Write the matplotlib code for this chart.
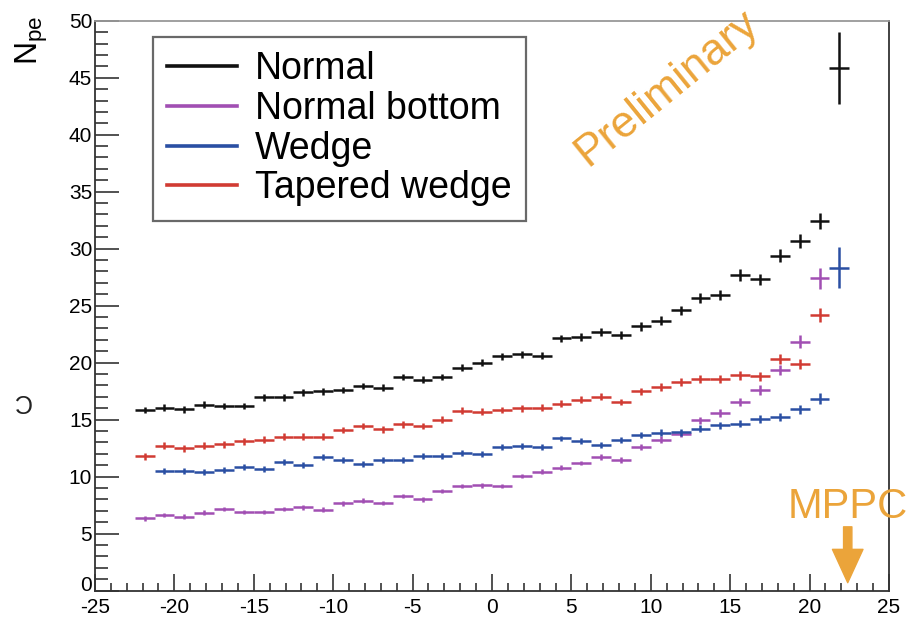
import numpy as np
import matplotlib
matplotlib.use("Agg")
import matplotlib.pyplot as plt
from matplotlib.lines import Line2D
from matplotlib.ticker import MultipleLocator, FuncFormatter

plt.rcParams["font.family"] = ["Liberation Sans", "DejaVu Sans"]
plt.rcParams["mathtext.fontset"] = "custom"
plt.rcParams["mathtext.rm"] = "Liberation Sans"
plt.rcParams["mathtext.it"] = "Liberation Sans"
plt.rcParams["axes.unicode_minus"] = False

# histogram binning: 40 bins between -25 and 25
bin_edges = np.linspace(-25, 25, 41)
bin_centers = 0.5 * (bin_edges[:-1] + bin_edges[1:])
half_width = 0.5 * (bin_edges[1] - bin_edges[0])

# Normal (bins 2..37)
normal_bins = np.arange(2, 38)
normal_vals = [15.85, 16.05, 15.9, 16.3, 16.2, 16.2, 16.95, 16.95, 17.4, 17.5,
               17.6, 17.95, 17.8, 18.75, 18.5, 18.75, 19.55, 20.0, 20.55, 20.75,
               20.6, 22.15, 22.25, 22.65, 22.4, 23.2, 23.7, 24.6, 25.7, 25.95,
               27.7, 27.3, 29.4, 30.65, 32.4, 45.85]
normal_errs = [0.3, 0.3, 0.3, 0.3, 0.3, 0.3, 0.3, 0.3, 0.3, 0.3,
               0.3, 0.3, 0.3, 0.3, 0.3, 0.3, 0.3, 0.3, 0.3, 0.3,
               0.3, 0.3, 0.35, 0.35, 0.35, 0.4, 0.4, 0.4, 0.45, 0.45,
               0.5, 0.5, 0.55, 0.6, 0.7, 3.2]

# Normal bottom (bins 2..36)
bottom_bins = np.arange(2, 37)
bottom_vals = [6.35, 6.65, 6.5, 6.85, 7.15, 6.9, 6.9, 7.15, 7.3, 7.1,
               7.65, 7.9, 7.7, 8.3, 8.0, 8.75, 9.2, 9.25, 9.2, 10.05,
               10.45, 10.8, 11.2, 11.75, 11.45, 12.6, 13.25, 13.75, 14.95, 15.6,
               16.55, 17.6, 19.35, 21.85, 27.4]
bottom_errs = [0.2, 0.2, 0.2, 0.2, 0.2, 0.2, 0.2, 0.2, 0.2, 0.2,
               0.2, 0.2, 0.2, 0.2, 0.2, 0.2, 0.2, 0.2, 0.2, 0.2,
               0.2, 0.2, 0.2, 0.25, 0.25, 0.25, 0.3, 0.3, 0.3, 0.35,
               0.35, 0.4, 0.45, 0.55, 0.9]

# Wedge (bins 3..37)
wedge_bins = np.arange(3, 38)
wedge_vals = [10.5, 10.5, 10.4, 10.6, 10.85, 10.65, 11.3, 11.05, 11.7, 11.45,
              11.1, 11.45, 11.45, 11.8, 11.8, 12.1, 12.0, 12.6, 12.7, 12.6,
              13.35, 13.15, 12.75, 13.2, 13.65, 13.85, 13.9, 14.2, 14.5, 14.65,
              15.05, 15.25, 15.9, 16.85, 28.35]
wedge_errs = [0.25, 0.25, 0.25, 0.25, 0.25, 0.25, 0.25, 0.25, 0.25, 0.25,
              0.25, 0.25, 0.25, 0.25, 0.25, 0.25, 0.25, 0.25, 0.25, 0.25,
              0.25, 0.25, 0.25, 0.25, 0.25, 0.3, 0.3, 0.3, 0.3, 0.3,
              0.35, 0.35, 0.4, 0.45, 1.8]

# Tapered wedge (bins 2..36)
tapered_bins = np.arange(2, 37)
tapered_vals = [11.8, 12.7, 12.5, 12.7, 12.85, 13.1, 13.25, 13.5, 13.5, 13.5,
                14.1, 14.45, 14.15, 14.6, 14.45, 15.0, 15.8, 15.7, 15.85, 16.0,
                16.05, 16.4, 16.75, 17.0, 16.55, 17.5, 17.9, 18.3, 18.55, 18.55,
                18.9, 18.8, 20.35, 19.9, 24.2]
tapered_errs = [0.3, 0.3, 0.3, 0.3, 0.3, 0.3, 0.3, 0.3, 0.3, 0.3,
                0.3, 0.3, 0.3, 0.3, 0.3, 0.3, 0.3, 0.3, 0.3, 0.3,
                0.3, 0.3, 0.3, 0.3, 0.3, 0.3, 0.35, 0.35, 0.35, 0.35,
                0.4, 0.4, 0.45, 0.45, 0.6]

series = [
    ("Normal", normal_bins, normal_vals, normal_errs, "#111111"),
    ("Normal bottom", bottom_bins, bottom_vals, bottom_errs, "#a14fb3"),
    ("Wedge", wedge_bins, wedge_vals, wedge_errs, "#2a4fa3"),
    ("Tapered wedge", tapered_bins, tapered_vals, tapered_errs, "#d13b33"),
]

orange = "#eba43a"

fig = plt.figure(figsize=(9.15, 6.2), dpi=100)
ax = fig.add_axes([0.1038, 0.0473, 0.8678, 0.9193])

handles = []
for name, bins, vals, errs, color in series:
    ax.errorbar(bin_centers[bins], vals, xerr=half_width, yerr=errs,
                fmt="none", ecolor=color, elinewidth=1.8, capsize=0)
    handles.append(Line2D([], [], color=color, linewidth=2.6, label=name))

ax.set_xlim(-25, 25)
ax.set_ylim(0, 50)
ax.xaxis.set_major_locator(MultipleLocator(5))
ax.xaxis.set_minor_locator(MultipleLocator(1))
ax.yaxis.set_major_locator(MultipleLocator(5))
ax.yaxis.set_minor_locator(MultipleLocator(1))
# the "0" of the y axis is drawn separately, slightly raised (ROOT style)
ax.yaxis.set_major_formatter(FuncFormatter(lambda v, pos: "" if v == 0 else f"{v:g}"))
ax.tick_params(axis="y", which="major", direction="in", length=17, width=1.2,
               labelsize=15, pad=2, right=False, color="#333333")
ax.tick_params(axis="y", which="minor", direction="in", length=9.5, width=1.2,
               right=False, color="#333333")
ax.tick_params(axis="x", which="major", direction="in", length=12, width=1.2,
               labelsize=15, pad=5, top=False, color="#333333")
ax.tick_params(axis="x", which="minor", direction="in", length=6, width=1.2,
               top=False, color="#333333")
for side in ["left", "bottom", "right"]:
    ax.spines[side].set_color("#333333")
    ax.spines[side].set_linewidth(1.3)
ax.spines["top"].set_color("#999999")
ax.spines["top"].set_linewidth(1.3)

ax.annotate("0", xy=(0, 0), xycoords="axes fraction", xytext=(-2.5, 4),
            textcoords="offset points", ha="right", va="center", fontsize=15)

leg = ax.legend(handles=handles, loc="upper left", bbox_to_anchor=(0.073, 0.9715),
                borderaxespad=0, fontsize=27, frameon=True, fancybox=False,
                handlelength=1.85, handletextpad=0.5, borderpad=0.38,
                labelspacing=0.1)
leg.get_frame().set_edgecolor("#444444")
leg.get_frame().set_linewidth(1.6)

fig.text(0.035, 0.935, r"$\mathrm{N_{pe}}$", rotation=90, fontsize=23,
         ha="center", va="center")
fig.text(0.024, 0.353, "C", rotation=180, fontsize=18, ha="center", va="center",
         color="#222222")

ax.text(0.72, 0.882, "Preliminary", transform=ax.transAxes, rotation=39,
        fontsize=32, color=orange, ha="center", va="center")
ax.text(22.4, 7.3, "MPPC", fontsize=30, color=orange, ha="center",
        va="center", clip_on=False)
ax.annotate("", xy=(22.4, 0.7), xytext=(22.4, 5.6),
            arrowprops=dict(arrowstyle="simple,head_width=1.1,head_length=1.2,tail_width=0.3",
                            color=orange, shrinkA=0, shrinkB=0, mutation_scale=20))

fig.savefig("out.png", dpi=100)
